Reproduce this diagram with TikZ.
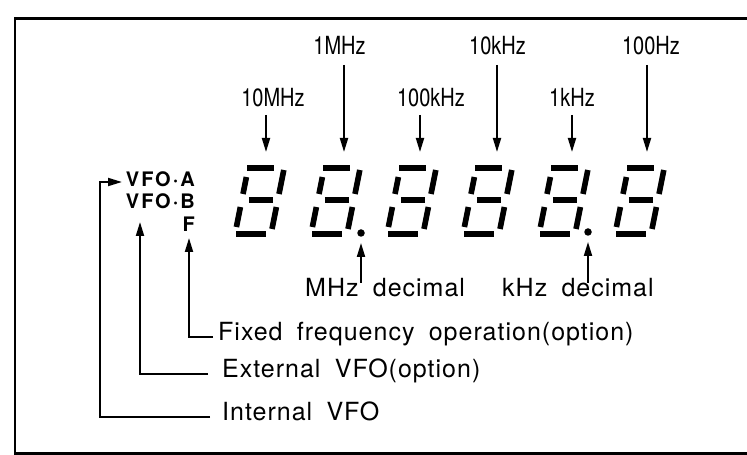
\documentclass[tikz,border=0pt]{standalone}
\usepackage{fontspec}
\setmainfont{TeX Gyre Heros}
\newfontfamily\condfont[FakeStretch=0.8]{TeX Gyre Heros}
\newfontfamily\spacedfont[LetterSpace=4,WordSpace=1.8]{TeX Gyre Heros}
\newfontfamily\vfofont[LetterSpace=10]{TeX Gyre Heros}
\usetikzlibrary{arrows.meta}
\tikzset{
  seg/.style={line width=5.6pt, line cap=butt},
  arr/.style={line width=1.9pt, -{Triangle[length=14pt,width=8pt]}},
  toplbl/.style={font=\condfont\fontsize{25}{25}\selectfont, anchor=base, inner sep=0pt},
  botlbl/.style={font=\spacedfont\fontsize{25}{25}\selectfont, anchor=base west, inner sep=0pt, text height=0.72em, text depth=0pt},
  vfolbl/.style={font=\vfofont\bfseries\fontsize{20}{20}\selectfont, anchor=base east, inner sep=0pt},
  dp/.style={circle, fill, inner sep=0pt, minimum size=7.5pt}
}
\newcommand\segdigit[2]{%
  \begin{scope}[shift={(#1,#2)},xslant=0.2]
    \draw[seg] (-1,66) -- (26,66);
    \draw[seg] (36,64) -- (36,40);
    \draw[seg] (36,27) -- (36,5);
    \draw[seg] (1,0) -- (31,0);
    \draw[seg] (0,7) -- (0,27);
    \draw[seg] (0,40) -- (0,57);
    \draw[seg] (7,34) -- (31,34);
  \end{scope}}
\begin{document}
\begin{tikzpicture}[x=1pt,y=1pt]
\useasboundingbox (0,0) rectangle (747,455);
\begin{scope}
\clip (0,0) rectangle (747,455);
\draw[line width=2.7pt] (15,1.3) rectangle (800,436.7);
\end{scope}
% digits
\segdigit{235}{221}
\segdigit{311}{221}
\segdigit{387}{221}
\segdigit{463}{221}
\segdigit{539}{221}
\segdigit{615}{221}
% decimal points
\node[dp] (dp1) at (361,222) {};
\node[dp] (dp2) at (588,223) {};
% top labels
\node[toplbl] (l1) at (273,348) {10MHz};
\node[toplbl] (l2) at (339.5,400) {1MHz};
\node[toplbl] (l3) at (431,348) {100kHz};
\node[toplbl] (l4) at (497.5,400) {10kHz};
\node[toplbl] (l5) at (572,348) {1kHz};
\node[toplbl] (l6) at (651,400) {100Hz};
\coordinate (t1) at (266,303);
\coordinate (t2) at (344,303);
\coordinate (t3) at (420,303);
\coordinate (t4) at (497,303);
\coordinate (t5) at (572,303);
\coordinate (t6) at (647,303);
\draw[arr] ([yshift=-8]l1.base -| t1) -- (t1);
\draw[arr] ([yshift=-10]l2.base -| t2) -- (t2);
\draw[arr] ([yshift=-8]l3.base -| t3) -- (t3);
\draw[arr] ([yshift=-10]l4.base -| t4) -- (t4);
\draw[arr] ([yshift=-8]l5.base -| t5) -- (t5);
\draw[arr] ([yshift=-10]l6.base -| t6) -- (t6);
% decimal labels
\node[botlbl] (mhz) at (305,158) {MHz decimal};
\node[botlbl] (khz) at (502,158) {kHz decimal};
\draw[arr] ([yshift=7]mhz.north -| dp1) -- ([yshift=-6]dp1.south);
\draw[arr] ([yshift=7]khz.north -| dp2) -- ([yshift=-6]dp2.south);
% VFO labels
\node[vfolbl] (vfoA) at (195,268) {VFO·A};
\node[vfolbl] (vfoB) at (195,246) {VFO·B};
\node[vfolbl] (vfoF) at (195,223) {F};
\node[botlbl] (fixd) at (218,114) {Fixed frequency operation(option)};
\node[botlbl] (extl) at (222,77) {External VFO(option)};
\node[botlbl] (intl) at (222,34) {Internal VFO};
\coordinate (tipA) at (122,273);
\coordinate (tipB) at (140,233);
\coordinate (tipF) at (189,217);
\draw[arr] ([xshift=-12]intl.west) -| ([xshift=-22]tipA) -- (tipA);
\draw[arr] ([xshift=-14]extl.west) -| (tipB);
\draw[arr] ([xshift=-5]fixd.west) -| (tipF);
\end{tikzpicture}
\end{document}
